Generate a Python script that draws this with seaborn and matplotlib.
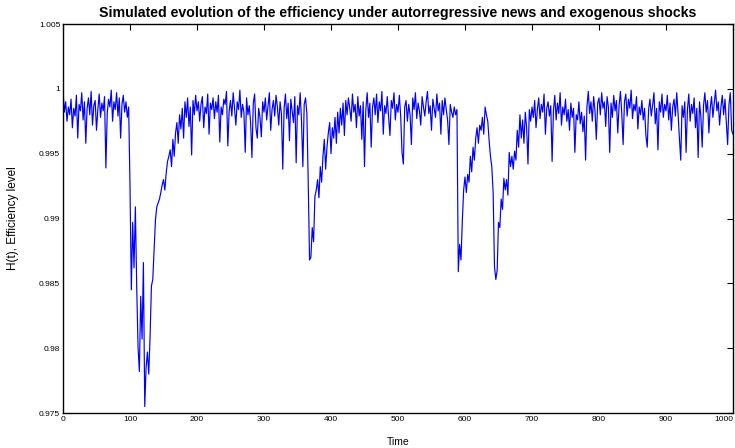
import numpy as np
import pandas as pd
import matplotlib
matplotlib.use("Agg")
import matplotlib.pyplot as plt
import seaborn as sns
from matplotlib.ticker import FuncFormatter

# ---- data: efficiency level H(t), sampled every 2 time steps ----
seg_000 = [0.9999, 0.9982, 0.9990, 0.9975, 0.9986, 0.9980, 0.9992, 0.9970, 0.9985, 0.9979,
           0.9995, 0.9962, 0.9988, 0.9983, 0.9997, 0.9976, 0.9990, 0.9958, 0.9985, 0.9993,
           0.9980, 0.9998, 0.9972, 0.9987, 0.9991, 0.9968, 0.9984, 0.9996, 0.9978, 0.9989,
           0.9983, 0.9994, 0.9939, 0.9981, 0.9992, 0.9986, 0.9999, 0.9975, 0.9990, 0.9984,
           0.9997, 0.9979, 0.9993, 0.9962, 0.9988, 0.9995, 0.9982, 0.9990, 0.9978, 0.9986]
seg_100 = [0.9925, 0.9845, 0.9897, 0.9862, 0.9909, 0.9848, 0.9801, 0.9782, 0.9840, 0.9807,
           0.9866, 0.9755, 0.9785, 0.9797, 0.9780, 0.9810, 0.9848, 0.9853, 0.9876, 0.9899,
           0.9909, 0.9912, 0.9915, 0.9920, 0.9926, 0.9930, 0.9922, 0.9935, 0.9944, 0.9948,
           0.9953, 0.9940, 0.9961, 0.9948, 0.9966, 0.9974, 0.9958, 0.9980, 0.9969, 0.9985,
           0.9962, 0.9990, 0.9978, 0.9993, 0.9971, 0.9986, 0.9949, 0.9991, 0.9980, 0.9995]
seg_200 = [0.9983, 0.9990, 0.9975, 0.9988, 0.9994, 0.9970, 0.9986, 0.9981, 0.9996, 0.9965,
           0.9989, 0.9984, 0.9993, 0.9977, 0.9990, 0.9982, 0.9995, 0.9959, 0.9986, 0.9980,
           0.9992, 0.9988, 0.9998, 0.9956, 0.9983, 0.9991, 0.9979, 0.9997, 0.9985, 0.9972,
           0.9990, 0.9984, 0.9999, 0.9978, 0.9988, 0.9982, 0.9951, 0.9993, 0.9980, 0.9987,
           0.9974, 0.9947, 0.9989, 0.9996, 0.9970, 0.9962, 0.9985, 0.9978, 0.9963, 0.9990]
seg_300 = [0.9982, 0.9993, 0.9976, 0.9987, 0.9997, 0.9968, 0.9984, 0.9991, 0.9979, 0.9995,
           0.9986, 0.9972, 0.9990, 0.9981, 0.9938, 0.9985, 0.9996, 0.9977, 0.9989, 0.9960,
           0.9992, 0.9983, 0.9974, 0.9994, 0.9943, 0.9987, 0.9980, 0.9997, 0.9975, 0.9940,
           0.9988, 0.9993, 0.9981, 0.9928, 0.9868, 0.9870, 0.9893, 0.9882, 0.9917, 0.9922,
           0.9930, 0.9916, 0.9940, 0.9928, 0.9948, 0.9961, 0.9938, 0.9955, 0.9966, 0.9974]
seg_400 = [0.9950, 0.9970, 0.9962, 0.9978, 0.9958, 0.9982, 0.9966, 0.9985, 0.9972, 0.9989,
           0.9964, 0.9991, 0.9980, 0.9993, 0.9985, 0.9975, 0.9996, 0.9982, 0.9988, 0.9970,
           0.9994, 0.9979, 0.9987, 0.9961, 0.9990, 0.9940, 0.9984, 0.9997, 0.9978, 0.9989,
           0.9955, 0.9986, 0.9993, 0.9980, 0.9996, 0.9974, 0.9990, 0.9983, 0.9998, 0.9965,
           0.9987, 0.9981, 0.9994, 0.9978, 0.9964, 0.9991, 0.9985, 0.9997, 0.9976, 0.9988]
seg_500 = [0.9982, 0.9995, 0.9979, 0.9951, 0.9942, 0.9986, 0.9991, 0.9975, 0.9988, 0.9980,
           0.9957, 0.9993, 0.9984, 0.9997, 0.9977, 0.9989, 0.9983, 0.9972, 0.9994, 0.9986,
           0.9979, 0.9990, 0.9998, 0.9981, 0.9987, 0.9968, 0.9992, 0.9985, 0.9978, 0.9996,
           0.9983, 0.9989, 0.9965, 0.9991, 0.9980, 0.9993, 0.9984, 0.9976, 0.9957, 0.9988,
           0.9982, 0.9978, 0.9986, 0.9980, 0.9984, 0.9859, 0.9880, 0.9868, 0.9898, 0.9922]
seg_600 = [0.9932, 0.9920, 0.9934, 0.9928, 0.9948, 0.9936, 0.9955, 0.9945, 0.9962, 0.9970,
           0.9958, 0.9972, 0.9968, 0.9978, 0.9965, 0.9986, 0.9980, 0.9975, 0.9960, 0.9948,
           0.9940, 0.9920, 0.9863, 0.9853, 0.9860, 0.9897, 0.9893, 0.9915, 0.9907, 0.9931,
           0.9922, 0.9930, 0.9918, 0.9951, 0.9940, 0.9948, 0.9938, 0.9952, 0.9945, 0.9968,
           0.9955, 0.9980, 0.9962, 0.9976, 0.9958, 0.9982, 0.9970, 0.9942, 0.9984, 0.9975]
seg_700 = [0.9986, 0.9978, 0.9991, 0.9970, 0.9984, 0.9993, 0.9977, 0.9988, 0.9982, 0.9996,
           0.9965, 0.9985, 0.9990, 0.9979, 0.9987, 0.9944, 0.9983, 0.9995, 0.9976, 0.9989,
           0.9981, 0.9997, 0.9972, 0.9986, 0.9980, 0.9992, 0.9975, 0.9984, 0.9968, 0.9989,
           0.9978, 0.9985, 0.9951, 0.9980, 0.9976, 0.9990, 0.9973, 0.9982, 0.9967, 0.9979,
           0.9945, 0.9986, 0.9998, 0.9981, 0.9990, 0.9975, 0.9994, 0.9983, 0.9961, 0.9989]
seg_800 = [0.9993, 0.9980, 0.9997, 0.9985, 0.9990, 0.9971, 0.9994, 0.9986, 0.9951, 0.9989,
           0.9978, 0.9995, 0.9983, 0.9991, 0.9966, 0.9987, 0.9998, 0.9981, 0.9957, 0.9990,
           0.9996, 0.9979, 0.9992, 0.9985, 0.9999, 0.9977, 0.9988, 0.9983, 0.9994, 0.9969,
           0.9986, 0.9980, 0.9991, 0.9976, 0.9985, 0.9964, 0.9955, 0.9984, 0.9992, 0.9979,
           0.9987, 0.9997, 0.9973, 0.9985, 0.9953, 0.9990, 0.9982, 0.9996, 0.9978, 0.9988]
seg_900 = [0.9983, 0.9995, 0.9976, 0.9989, 0.9968, 0.9986, 0.9992, 0.9979, 0.9997, 0.9981,
           0.9962, 0.9945, 0.9987, 0.9978, 0.9990, 0.9951, 0.9984, 0.9996, 0.9975, 0.9988,
           0.9981, 0.9993, 0.9970, 0.9985, 0.9947, 0.9990, 0.9979, 0.9955, 0.9987, 0.9997,
           0.9982, 0.9991, 0.9966, 0.9985, 0.9994, 0.9978, 0.9989, 0.9999, 0.9983, 0.9990,
           0.9972, 0.9986, 0.9995, 0.9980, 0.9992, 0.9974, 0.9957, 0.9988, 0.9997, 0.9968,
           0.9965]

x_ticks = [0, 100, 200, 300, 400, 500, 600, 700, 800, 900, 1000]
y_ticks = [0.975, 0.98, 0.985, 0.99, 0.995, 1.0, 1.005]

title = "Simulated evolution of the efficiency under autorregressive news and exogenous shocks"
x_label = "Time"
y_label = "H(t), Efficiency level"

H = np.concatenate([seg_000, seg_100, seg_200, seg_300, seg_400,
                    seg_500, seg_600, seg_700, seg_800, seg_900])
t = np.arange(0, 2 * len(H), 2)
df = pd.DataFrame({"Time": t, "H": H})

sns.set_theme(style="white")
plt.rcParams["font.family"] = ["Liberation Sans", "DejaVu Sans"]
plt.rcParams["text.color"] = "black"
plt.rcParams["axes.labelcolor"] = "black"

fig = plt.figure(figsize=(7.35, 4.48), dpi=100)
ax = fig.add_axes([63 / 735, 1 - 413 / 448, (733 - 63) / 735, (413 - 24) / 448])

sns.lineplot(data=df, x="Time", y="H", color="#0000ff", linewidth=0.85, ax=ax)

ax.set_xlim(0, 1000)
ax.set_ylim(0.975, 1.005)
ax.set_xticks(x_ticks)
ax.set_yticks(y_ticks)
ax.xaxis.set_major_formatter(FuncFormatter(lambda v, _: f"{v:g}"))
ax.yaxis.set_major_formatter(FuncFormatter(lambda v, _: f"{v:g}"))
ax.tick_params(direction="in", length=4, width=0.8, top=True, right=True,
               labelsize=6, colors="black", pad=2)
for s in ax.spines.values():
    s.set_color("black")
    s.set_linewidth(1.0)
# keep the last x tick label inside the figure edge
ax.get_xticklabels()[-1].set_horizontalalignment("right")

ax.set_title(title, fontsize=10.2, fontweight="bold", pad=5, color="black")
ax.set_xlabel(x_label, fontsize=7.5, labelpad=10, color="black")
ax.set_ylabel(y_label, fontsize=8.5, labelpad=14, color="black")

fig.savefig("out.png", dpi=100, facecolor="white")
